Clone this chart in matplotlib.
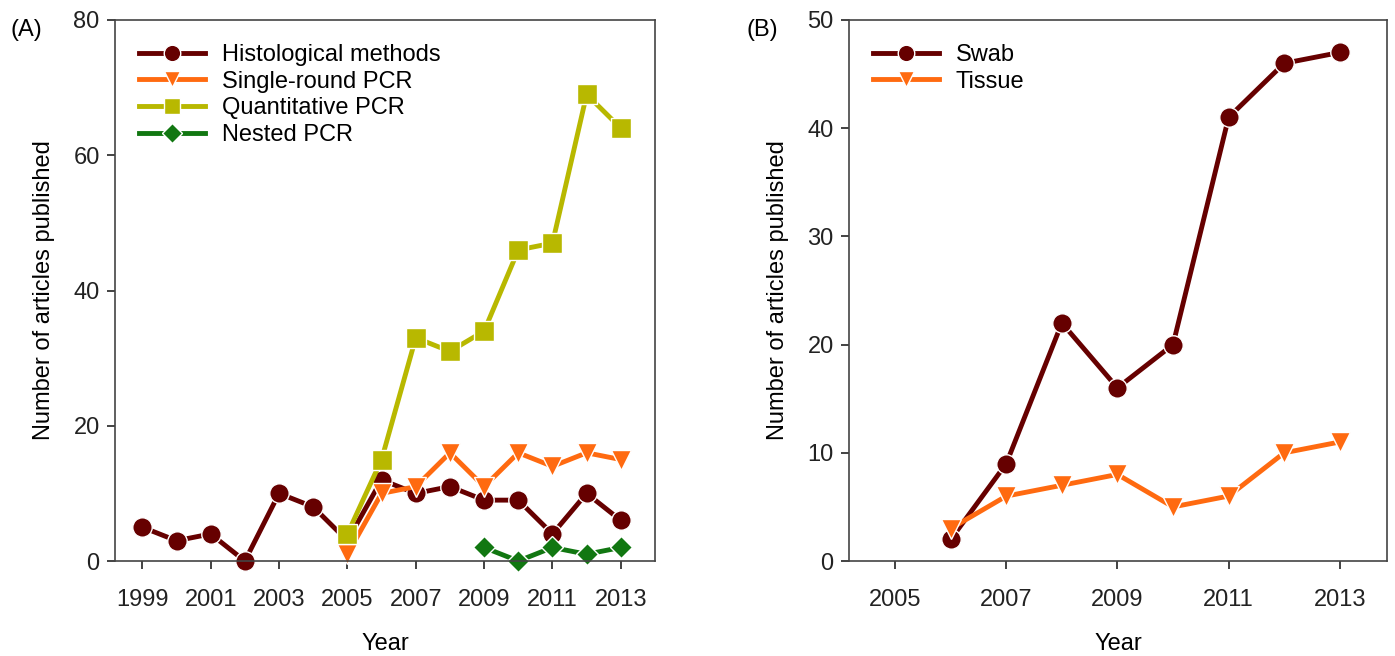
import matplotlib
matplotlib.use('Agg')
from matplotlib import pyplot as plt

plt.rcParams['font.family'] = ['Liberation Sans', 'DejaVu Sans']

# 图A：不同检测方法的文章数量
years_histo = [1999, 2000, 2001, 2002, 2003, 2004, 2005, 2006, 2007, 2008, 2009, 2010, 2011, 2012, 2013]
histo = [5, 3, 4, 0, 10, 8, 3, 12, 10, 11, 9, 9, 4, 10, 6]
years_single = [2005, 2006, 2007, 2008, 2009, 2010, 2011, 2012, 2013]
single = [1, 10, 11, 16, 11, 16, 14, 16, 15]
years_qpcr = [2005, 2006, 2007, 2008, 2009, 2010, 2011, 2012, 2013]
qpcr = [4, 15, 33, 31, 34, 46, 47, 69, 64]
years_nested = [2009, 2010, 2011, 2012, 2013]
nested = [2, 0, 2, 1, 2]

# 图B：样本类型
years_b = [2006, 2007, 2008, 2009, 2010, 2011, 2012, 2013]
swab = [2, 9, 22, 16, 20, 41, 46, 47]
tissue = [3, 6, 7, 8, 5, 6, 10, 11]

c_dark = '#660000'
c_orange = '#ff6a10'
c_olive = '#b8b800'
c_green = '#117711'

fig = plt.figure(figsize=(13.95, 6.56), dpi=100)
ax1 = fig.add_axes([115 / 1395, 95 / 656, 540 / 1395, 541 / 656])
ax2 = fig.add_axes([849 / 1395, 95 / 656, 538 / 1395, 541 / 656])

style = dict(linewidth=3.5, markersize=14, markeredgecolor='white', markeredgewidth=1)
ax1.plot(years_histo, histo, color=c_dark, marker='o', label='Histological methods', **style)
ax1.plot(years_single, single, color=c_orange, marker='v', label='Single-round PCR', **style)
ax1.plot(years_qpcr, qpcr, color=c_olive, marker='s', label='Quantitative PCR', **style)
ax1.plot(years_nested, nested, color=c_green, marker='D', label='Nested PCR',
         linewidth=3.5, markersize=11.5, markeredgecolor='white', markeredgewidth=1)

ax2.plot(years_b, swab, color=c_dark, marker='o', label='Swab', **style)
ax2.plot(years_b, tissue, color=c_orange, marker='v', label='Tissue', **style)

ax1.set_xlim(1998.2, 2014.0)
ax1.set_ylim(0, 80)
ax1.set_xticks(range(1999, 2014, 2))
ax1.set_yticks(range(0, 81, 20))

ax2.set_xlim(2004.17, 2013.85)
ax2.set_ylim(0, 50)
ax2.set_xticks(range(2005, 2014, 2))
ax2.set_yticks(range(0, 51, 10))

for ax in (ax1, ax2):
    for s in ax.spines.values():
        s.set_color('#444444')
        s.set_linewidth(1.2)
    ax.tick_params(direction='out', length=6, width=1.2, labelsize=17, colors='#222222')
    ax.tick_params(axis='x', pad=14)
    ax.tick_params(axis='y', pad=5)
    ax.set_xlabel('Year', fontsize=17, labelpad=16)
    ax.set_ylabel('Number of articles published', fontsize=17, labelpad=13)
    for m in ax.get_lines():
        m.set_clip_on(False)
    ax.legend(loc='upper left', frameon=False, fontsize=17, handlelength=2.8,
              labelspacing=0.2, borderaxespad=0.5, handletextpad=0.7, markerscale=0.85,
              bbox_to_anchor=(0.005, 0.995))

fig.text(10 / 1395, 1 - 30 / 656, '(A)', fontsize=17, ha='left', va='center')
fig.text(746 / 1395, 1 - 30 / 656, '(B)', fontsize=17, ha='left', va='center')

fig.savefig('out.png', dpi=100)
